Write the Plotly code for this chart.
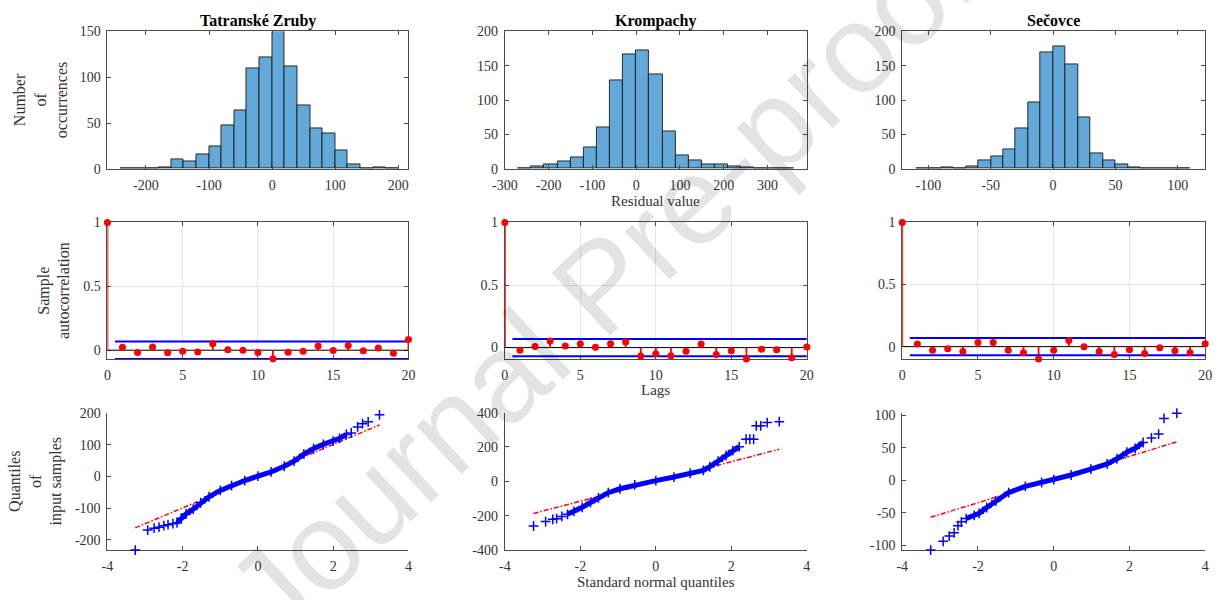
import plotly.graph_objects as go

# ---------------- DATA ----------------
stations = ["Tatranské Zruby", "Krompachy", "Sečovce"]

# Histograms of residuals (bin start, bin width, counts)
tatra_bin_start, tatra_bin_width = -240, 20
tatra_counts = [1, 0, 0, 2, 10, 8, 16, 25, 47, 64, 110, 122, 150, 112, 69, 44, 39, 20, 5, 1, 2, 1]

kromp_bin_start, kromp_bin_width = -270, 30
kromp_counts = [1, 3, 7, 11, 16, 31, 60, 128, 166, 172, 137, 54, 20, 13, 7, 7, 3, 2, 0, 1, 1]

secov_bin_start, secov_bin_width = -110, 10
secov_counts = [1, 1, 2, 1, 3, 13, 18, 29, 59, 97, 169, 178, 152, 75, 22, 12, 7, 2, 1, 0, 1, 1]

# Sample autocorrelation, lags 0..20
lags = list(range(0, 21))
tatra_acf = [1, 0.023, -0.018, 0.025, -0.020, -0.008, -0.013, 0.051, 0.003, 0.000, -0.018,
             -0.066, -0.015, -0.008, 0.033, -0.003, 0.036, -0.005, 0.018, -0.023, 0.084]
kromp_acf = [1, -0.021, 0.008, 0.052, 0.013, 0.031, 0.003, 0.031, 0.044, -0.068, -0.049,
             -0.065, -0.029, 0.029, -0.055, -0.026, -0.091, -0.013, -0.018, -0.081, 0.005]
secov_acf = [1, 0.021, -0.029, -0.018, -0.039, 0.034, 0.034, -0.029, -0.050, -0.0995, -0.029,
             0.050, 0.000, -0.039, -0.063, -0.026, -0.055, -0.010, -0.034, -0.050, 0.024]
acf_bounds = [0.0686, 0.069, 0.069]

# QQ plots: body (dense) and tail (sparse) points
tatra_qq_body_x = [-2.15, -2.04, -1.91, -1.72, -1.52, -1.30, -1.00, -0.70, -0.35, 0.00, 0.35, 0.70,
                   0.96, 1.22, 1.48, 1.74, 2.00, 2.17, 2.35]
tatra_qq_body_y = [-146, -132, -118, -103, -83, -64, -44, -29, -13, 1, 14, 32,
                   48, 70, 88, 101, 111, 120, 132]
tatra_qq_tail_x = [-3.26, -2.93, -2.76, -2.63, -2.50, -2.39, -2.26, 2.48, 2.65, 2.78, 2.93, 3.23]
tatra_qq_tail_y = [-232, -169, -163, -160, -155, -152, -149, 137, 156, 166, 172, 194]
tatra_qq_ref = [(-3.26, -162), (3.23, 162)]

kromp_qq_body_x = [-2.34, -2.17, -1.95, -1.73, -1.52, -1.26, -0.95, -0.56, 0.00, 0.48, 0.91, 1.26,
                   1.43, 1.65, 1.86, 2.04, 2.21]
kromp_qq_body_y = [-192, -175, -151, -123, -96, -66, -43, -21, 4, 25, 47, 64,
                   85, 117, 151, 179, 202]
kromp_qq_tail_x = [-3.24, -2.92, -2.73, -2.63, -2.49, 2.39, 2.49, 2.59, 2.66, 2.78, 2.95, 3.27]
kromp_qq_tail_y = [-260, -234, -221, -217, -204, 245, 245, 245, 323, 323, 342, 347]
kromp_qq_ref = [(-3.24, -187), (3.27, 187)]

secov_qq_body_x = [-2.31, -2.10, -1.97, -1.77, -1.53, -1.19, -0.75, -0.32, 0.00, 0.46, 0.98, 1.41,
                   1.67, 1.93, 2.15, 2.36]
secov_qq_body_y = [-59, -54, -51, -42, -32, -19, -9.5, -3.5, 1, 8, 17, 25,
                   33, 43, 49, 58]
secov_qq_tail_x = [-3.25, -2.92, -2.76, -2.63, -2.53, -2.44, 2.58, 2.77, 2.91, 3.25]
secov_qq_tail_y = [-107.5, -94, -86, -81, -70, -64, 65, 71, 95, 103]
secov_qq_ref = [(-3.25, -57), (3.25, 59)]

# Axis tick labels / ranges
hist_xranges = [[-261, 216], [-300, 390], [-121, 122]]
hist_xticks = [[-200, -100, 0, 100, 200], [-300, -200, -100, 0, 100, 200, 300], [-100, -50, 0, 50, 100]]
hist_yranges = [[0, 150], [0, 200], [0, 200]]
hist_yticks = [[0, 50, 100, 150], [0, 50, 100, 150, 200], [0, 50, 100, 150, 200]]
acf_xticks = [0, 5, 10, 15, 20]
acf_yticks = [0, 0.5, 1]
qq_xticks = [-4, -2, 0, 2, 4]
qq_yranges = [[-232, 201], [-400, 400], [-107.5, 104]]
qq_yticks = [[-200, -100, 0, 100, 200], [-400, -200, 0, 200, 400], [-100, -50, 0, 50, 100]]

# ---------------- STYLE ----------------
W, H = 1226, 600
FONT = "Liberation Serif"
TXT = "#333333"
AX = "#4d4d4d"
BAR = "#62A8D8"
col_px = [(96, 402), (500, 807), (904, 1212)]
row_px = [(25, 166), (221, 361), (416, 557)]

fig = go.Figure()


def dom_x(c):
    return [col_px[c][0] / W, col_px[c][1] / W]


def dom_y(r):
    return [1 - row_px[r][1] / H, 1 - row_px[r][0] / H]


def axname(r, c):
    i = r * 3 + c + 1
    return ("x" if i == 1 else f"x{i}"), ("y" if i == 1 else f"y{i}"), i


def labels(vals):
    return [f"{v:g}" for v in vals]  # plain hyphen-minus like the reference


base_axis = dict(
    showline=True, linecolor=AX, linewidth=1, ticks="inside", ticklen=4, tickcolor=AX,
    tickfont=dict(family=FONT, size=14, color=TXT), zeroline=False, showgrid=False,
    ticklabelstandoff=3, layer="below traces",
)

hist_data = [
    (tatra_bin_start, tatra_bin_width, tatra_counts),
    (kromp_bin_start, kromp_bin_width, kromp_counts),
    (secov_bin_start, secov_bin_width, secov_counts),
]
acf_data = [tatra_acf, kromp_acf, secov_acf]
qq_data = [
    (tatra_qq_body_x, tatra_qq_body_y, tatra_qq_tail_x, tatra_qq_tail_y, tatra_qq_ref),
    (kromp_qq_body_x, kromp_qq_body_y, kromp_qq_tail_x, kromp_qq_tail_y, kromp_qq_ref),
    (secov_qq_body_x, secov_qq_body_y, secov_qq_tail_x, secov_qq_tail_y, secov_qq_ref),
]
cross = dict(symbol="cross-thin", size=7, color="#0000ff", line=dict(color="#0000ff", width=1.5))

layout_axes = {}
for c in range(3):
    # ---- Row 1: histograms
    xa, ya, i = axname(0, c)
    start, width, counts = hist_data[c]
    centers = [start + width * (k + 0.5) for k in range(len(counts))]
    fig.add_trace(go.Bar(x=centers, y=counts, width=width, xaxis=xa, yaxis=ya,
                         marker=dict(color=BAR, line=dict(color="#1a1a1a", width=0.9)),
                         showlegend=False))
    layout_axes[f"xaxis{'' if i == 1 else i}"] = dict(
        base_axis, domain=dom_x(c), anchor=ya, range=hist_xranges[c], tickvals=hist_xticks[c],
        ticktext=labels(hist_xticks[c]), mirror="allticks", layer="above traces")
    layout_axes[f"yaxis{'' if i == 1 else i}"] = dict(
        base_axis, domain=dom_y(0), anchor=xa, range=hist_yranges[c], tickvals=hist_yticks[c],
        ticktext=labels(hist_yticks[c]), mirror="allticks", layer="above traces")

    # ---- Row 2: autocorrelation
    xa, ya, i = axname(1, c)
    acf = acf_data[c]
    b = acf_bounds[c]
    fig.add_trace(go.Scatter(x=[lags[0], lags[-1]], y=[0, 0], mode="lines", xaxis=xa, yaxis=ya,
                             line=dict(color="black", width=1), showlegend=False, hoverinfo="skip"))
    sx, sy = [], []
    for lg, v in zip(lags, acf):
        sx += [lg, lg, None]
        sy += [0, v, None]
    fig.add_trace(go.Scatter(x=sx, y=sy, mode="lines", xaxis=xa, yaxis=ya,
                             line=dict(color="#ff0000", width=1.8), showlegend=False))
    for sgn in (1, -1):
        fig.add_trace(go.Scatter(x=[0.5, lags[-1]], y=[sgn * b, sgn * b], mode="lines",
                                 xaxis=xa, yaxis=ya, line=dict(color="#0000ff", width=2),
                                 showlegend=False))
    fig.add_trace(go.Scatter(x=lags, y=acf, mode="markers", xaxis=xa, yaxis=ya, cliponaxis=False,
                             marker=dict(color="#ff0000", size=7), showlegend=False))
    ylo = min(min(acf), -b)
    layout_axes[f"xaxis{i}"] = dict(
        base_axis, domain=dom_x(c), anchor=ya, range=[0, 20], tickvals=acf_xticks,
        ticktext=labels(acf_xticks), mirror="allticks", showgrid=True, gridcolor="#e6e6e6",
        gridwidth=1)
    layout_axes[f"yaxis{i}"] = dict(
        base_axis, domain=dom_y(1), anchor=xa, range=[ylo, 1], tickvals=acf_yticks,
        ticktext=labels(acf_yticks), mirror="allticks", showgrid=True, gridcolor="#e6e6e6",
        gridwidth=1)

    # ---- Row 3: QQ plots
    xa, ya, i = axname(2, c)
    bx, by, tx, ty, ref = qq_data[c]
    fig.add_trace(go.Scatter(x=[p[0] for p in ref], y=[p[1] for p in ref], mode="lines",
                             xaxis=xa, yaxis=ya,
                             line=dict(color="#ff0000", width=1.5, dash="5px,2px,1.5px,2px"),
                             showlegend=False))
    fig.add_trace(go.Scatter(x=bx, y=by, mode="lines+markers", xaxis=xa, yaxis=ya,
                             line=dict(color="#0000ff", width=5), marker=cross,
                             showlegend=False))
    fig.add_trace(go.Scatter(x=tx, y=ty, mode="markers", xaxis=xa, yaxis=ya, cliponaxis=False,
                             marker=cross, showlegend=False))
    layout_axes[f"xaxis{i}"] = dict(
        base_axis, domain=dom_x(c), anchor=ya, range=[-4, 4], tickvals=qq_xticks,
        ticktext=labels(qq_xticks))
    layout_axes[f"yaxis{i}"] = dict(
        base_axis, domain=dom_y(2), anchor=xa, range=qq_yranges[c], tickvals=qq_yticks[c],
        ticktext=labels(qq_yticks[c]))

fig.update_layout(**layout_axes)

annotations = []
for c, name in enumerate(stations):
    cx = (col_px[c][0] + col_px[c][1]) / 2 / W
    annotations.append(dict(x=cx, y=1 - 14 / H, xref="paper", yref="paper", text=f"<b>{name}</b>",
                            showarrow=False, font=dict(family=FONT, size=16, color="black"),
                            xanchor="center", yanchor="middle"))
mid_cx = (col_px[1][0] + col_px[1][1]) / 2 / W
for txt, ypx in [("Residual value", 199), ("Lags", 393), ("Standard normal quantiles", 590)]:
    annotations.append(dict(x=mid_cx, y=1 - ypx / H, xref="paper", yref="paper", text=txt,
                            showarrow=False, font=dict(family=FONT, size=15, color=TXT),
                            xanchor="center", yanchor="middle"))
for txt, xpx, ypx in [("Number<br>of<br>occurrences", 28, 96),
                      ("Sample<br>autocorrelation", 41, 291),
                      ("Quantiles<br>of<br>input samples", 23, 487)]:
    annotations.append(dict(x=xpx / W, y=1 - ypx / H, xref="paper", yref="paper", text=txt,
                            showarrow=False, textangle=-90,
                            font=dict(family=FONT, size=16, color=TXT),
                            xanchor="center", yanchor="middle"))
# watermark
annotations.append(dict(x=598 / W, y=1 - 285 / H, xref="paper", yref="paper",
                        text="Journal Pre-proof", showarrow=False, textangle=-43,
                        font=dict(family="Liberation Sans", size=125, color="rgba(0,0,0,0.11)"),
                        xanchor="center", yanchor="middle"))

fig.update_layout(
    width=W, height=H, margin=dict(l=0, r=0, t=0, b=0),
    font=dict(family=FONT, color=TXT),
    paper_bgcolor="white", plot_bgcolor="white", bargap=0, barmode="overlay",
    annotations=annotations, showlegend=False,
)

fig.write_html("out.html")
